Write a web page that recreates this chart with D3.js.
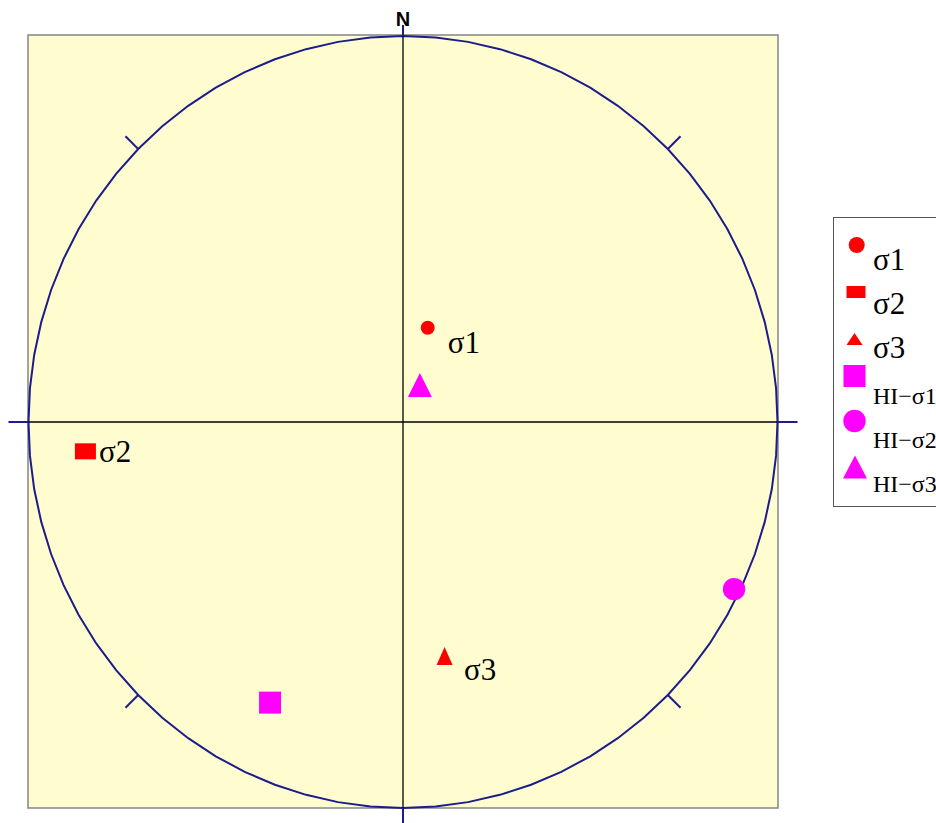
<!DOCTYPE html>
<html><head><meta charset="utf-8">
<script src="https://cdn.jsdelivr.net/npm/d3@7"></script>
<style>html,body{margin:0;padding:0;background:#fff;}svg{display:block;}</style>
</head><body>
<svg id="c" width="936" height="823"></svg>
<script>
// ---- data (normalized stereonet coordinates: east, north within unit circle) ----
const seriesNames = ["σ1", "σ2", "σ3", "HI−σ1", "HI−σ2", "HI−σ3"];
const seriesShapes = ["circle", "rect", "triangle", "square", "circle", "triangle"];
const seriesColors = ["#ff0000", "#ff0000", "#ff0000", "#ff00ff", "#ff00ff", "#ff00ff"];
const pointEast  = [0.066, -0.848, 0.111, -0.355, 0.884, 0.045];
const pointNorth = [0.244, -0.076, -0.606, -0.727, -0.433, 0.096];
const labelledSeries = ["σ1", "σ2", "σ3"];
const directionLabels = ["N"];

const svg = d3.select("#c");
const x = d3.scaleLinear().domain([-1, 1]).range([28.5, 777.5]);
const y = d3.scaleLinear().domain([-1, 1]).range([808, 36]);
const navy = "#1c1c8a";
const serif = "Liberation Serif, Times New Roman, serif";

// background frame
svg.append("rect").attr("x", x(-1) - 0.5).attr("y", y(1) - 1)
  .attr("width", x(1) - x(-1) + 1).attr("height", y(-1) - y(1) + 1)
  .attr("fill", "#fffdd0").attr("stroke", "#8c8c8c").attr("stroke-width", 1.6);

// primitive circle as polygon
const ang = d3.range(0, 73).map(i => i * 2 * Math.PI / 72);
svg.append("path")
  .attr("d", d3.line().x(a => x(Math.sin(a))).y(a => y(Math.cos(a)))(ang))
  .attr("fill", "none").attr("stroke", navy).attr("stroke-width", 2);

// axes lines
svg.append("line").attr("x1", x(0)).attr("x2", x(0)).attr("y1", y(1)).attr("y2", y(-1))
  .attr("stroke", "#000").attr("stroke-width", 1.3);
svg.append("line").attr("x1", x(-1)).attr("x2", x(1)).attr("y1", y(0)).attr("y2", y(0))
  .attr("stroke", "#000").attr("stroke-width", 1.3);

// outer ticks N/E/S/W
const tickG = svg.append("g").attr("stroke", navy).attr("stroke-width", 2);
tickG.append("line").attr("x1", x(0)).attr("x2", x(0)).attr("y1", y(1)).attr("y2", y(1) - 11);
tickG.append("line").attr("x1", x(0)).attr("x2", x(0)).attr("y1", y(-1)).attr("y2", y(-1) + 20);
tickG.append("line").attr("y1", y(0)).attr("y2", y(0)).attr("x1", x(1)).attr("x2", x(1) + 20);
tickG.append("line").attr("y1", y(0)).attr("y2", y(0)).attr("x1", x(-1)).attr("x2", x(-1) - 20);
// diagonal ticks
[45, 135, 225, 315].forEach(d => {
  const a = d * Math.PI / 180;
  const sx = Math.sin(a), sy = Math.cos(a);
  const px = x(sx), py = y(sy);
  tickG.append("line").attr("x1", px).attr("y1", py)
    .attr("x2", px + sx * 18).attr("y2", py - sy * 18);
});

svg.append("text").text(directionLabels[0]).attr("x", x(0)).attr("y", 26)
  .attr("text-anchor", "middle").attr("font-family", "Liberation Sans, Arial, sans-serif")
  .attr("font-weight", "bold").attr("font-size", 20).attr("fill", "#000");

// marker drawing
function marker(g, shape, cx, cy, s, color) {
  if (shape === "circle") {
    g.append("circle").attr("cx", cx).attr("cy", cy).attr("r", s.r).attr("fill", color);
  } else if (shape === "rect" || shape === "square") {
    g.append("rect").attr("x", cx - s.w / 2).attr("y", cy - s.h / 2)
      .attr("width", s.w).attr("height", s.h).attr("fill", color);
  } else {
    g.append("path").attr("d", `M${cx},${cy - s.h / 2}L${cx + s.w / 2},${cy + s.h / 2}L${cx - s.w / 2},${cy + s.h / 2}Z`)
      .attr("fill", color);
  }
}
const plotSizes = [{r: 7}, {w: 21, h: 16}, {w: 16, h: 18}, {w: 22, h: 22}, {r: 11.2}, {w: 24, h: 24}];
const labelOffsets = {"σ1": [20, 25.5], "σ2": [13.5, 10.5], "σ3": [19.5, 24.5]};
const pg = svg.append("g");
seriesNames.forEach((n, i) => {
  const cx = x(pointEast[i]), cy = y(pointNorth[i]);
  marker(pg, seriesShapes[i], cx, cy, plotSizes[i], seriesColors[i]);
  if (labelledSeries.includes(n)) {
    pg.append("text").text(n).attr("x", cx + labelOffsets[n][0]).attr("y", cy + labelOffsets[n][1])
      .attr("font-family", serif).attr("font-size", 31).attr("fill", "#000");
  }
});

// legend
const lg = svg.append("g");
lg.append("rect").attr("x", 833.5).attr("y", 217.5).attr("width", 140).attr("height", 289)
  .attr("fill", "#fff").attr("stroke", "#555").attr("stroke-width", 1);
const legSizes = [{r: 8}, {w: 19, h: 12}, {w: 16, h: 12}, {w: 22, h: 22}, {r: 11.2}, {w: 24, h: 23}];
const legMarkY = [245, 292, 339, 376, 421, 467];
const legMarkX = [856.7, 856, 854.5, 854.5, 854.5, 855];
const legTextY = [270, 314, 358, 404, 448, 492];
seriesNames.forEach((n, i) => {
  marker(lg, seriesShapes[i], legMarkX[i], legMarkY[i], legSizes[i], seriesColors[i]);
  lg.append("text").text(n).attr("x", 873).attr("y", legTextY[i])
    .attr("font-family", serif)
    .attr("font-size", i < 3 ? 31 : 24).attr("fill", "#000");
});
</script>
</body></html>
